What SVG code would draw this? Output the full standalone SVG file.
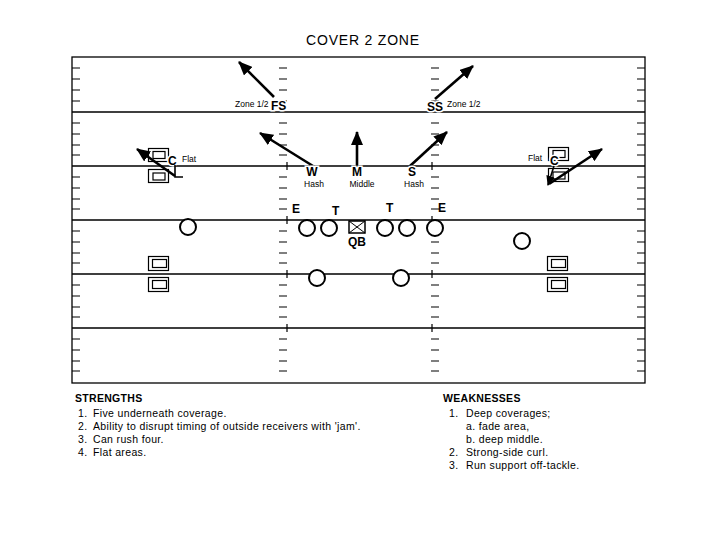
<svg xmlns="http://www.w3.org/2000/svg" width="720" height="540" viewBox="0 0 720 540">
<style>
text{font-family:"Liberation Sans",Arial,sans-serif;fill:#000}
.title{font-size:14px;letter-spacing:0.8px}
.lbl{font-size:12px;font-weight:bold}
.sm{font-size:8.5px}
.hd{font-size:10.5px;font-weight:bold;letter-spacing:0.3px}
.li{font-size:10.5px;letter-spacing:0.35px}
.fl{fill:none;stroke:#000;stroke-width:1.3}
.tk{stroke:#000;stroke-width:1.2}
.pl{fill:#fff;stroke:#000;stroke-width:2}
.bx{fill:#fff;stroke:#000;stroke-width:1.2}
.ar{stroke:#000;stroke-width:2.6;fill:none}
.ln{stroke:#000;stroke-width:1.6;fill:none}
.wt{stroke:#fff;stroke-width:3;paint-order:stroke}
</style>
<defs>
<marker id="ah" markerUnits="userSpaceOnUse" markerWidth="14" markerHeight="12" refX="13" refY="6" orient="auto"><path d="M0,0 L14,6 L0,12 Z" fill="#000"/></marker>
<marker id="ahs" markerUnits="userSpaceOnUse" markerWidth="10" markerHeight="9" refX="9" refY="4.5" orient="auto"><path d="M0,0 L10,4.5 L0,9 Z" fill="#000"/></marker>
<path id="tks" d="M72,0h8M279,0h8M431,0h8M637,0h8"/>
</defs>
<rect width="720" height="540" fill="#fff"/>
<text class="title" x="363" y="45" text-anchor="middle">COVER 2 ZONE</text>
<g id="field">
<rect class="fl" x="72" y="57" width="573" height="326"/>
<path class="fl" d="M72,112H645M72,166H645M72,220H645M72,274H645M72,328H645"/>
<g class="tk">
<use href="#tks" y="68"/><use href="#tks" y="79"/><use href="#tks" y="90"/><use href="#tks" y="101"/>
<use href="#tks" y="123"/><use href="#tks" y="134"/><use href="#tks" y="145"/><use href="#tks" y="155"/>
<use href="#tks" y="177"/><use href="#tks" y="188"/><use href="#tks" y="199"/><use href="#tks" y="209"/>
<use href="#tks" y="231"/><use href="#tks" y="242"/><use href="#tks" y="253"/><use href="#tks" y="263"/>
<use href="#tks" y="285"/><use href="#tks" y="296"/><use href="#tks" y="307"/><use href="#tks" y="317"/>
<use href="#tks" y="339"/><use href="#tks" y="350"/><use href="#tks" y="361"/><use href="#tks" y="371"/>
<path d="M287,162v8M287,216v8M287,270v8M287,324v8M432,162v8M432,216v8M432,270v8M432,324v8"/>
</g>
</g>
<g id="lc">
<rect class="bx" x="148.5" y="148.5" width="20" height="13"/><rect class="bx" x="153" y="151.5" width="12" height="7"/>
<rect class="bx" x="148.5" y="169.5" width="20" height="13"/><rect class="bx" x="153" y="173" width="12" height="7"/>
<text class="lbl wt" x="168" y="165">C</text>
<text class="sm" x="182" y="162">Flat</text>
</g>
<g id="rc">
<rect class="bx" x="548.5" y="147.5" width="20" height="13"/><rect class="bx" x="553" y="150.5" width="12" height="7"/>
<rect class="bx" x="548.5" y="168.5" width="20" height="13"/><rect class="bx" x="553" y="172" width="12" height="7"/>
<text class="lbl wt" x="550" y="165">C</text>
<text class="sm" x="528" y="161">Flat</text>
</g>
<g id="connectors">
<line class="ar" x1="274" y1="97" x2="239" y2="62" marker-end="url(#ah)"/>
<line class="ar" x1="313" y1="166" x2="260" y2="133" marker-end="url(#ah)"/>
<line class="ar" x1="357" y1="166" x2="357" y2="132" marker-end="url(#ah)"/>
<line class="ar" x1="410" y1="166" x2="447" y2="132" marker-end="url(#ah)"/>
<line class="ar" x1="435" y1="99" x2="473" y2="66" marker-end="url(#ah)"/>
<path class="ln" d="M175,165V177H183"/>
<line class="ar" x1="175" y1="176" x2="137" y2="149" marker-end="url(#ah)"/>
<line class="ln" x1="554" y1="166" x2="548" y2="185" marker-end="url(#ahs)"/>
<line class="ar" x1="549" y1="184" x2="602" y2="149" marker-end="url(#ah)"/>
</g>
<g id="fs">
<text class="sm" x="235" y="107">Zone 1/2</text>
<text class="lbl wt" x="271" y="110">FS</text>
</g>
<g id="ss">
<text class="lbl wt" x="427" y="111">SS</text>
<text class="sm" x="447" y="107">Zone 1/2</text>
</g>
<g id="w"><text class="lbl wt" x="312" y="176" text-anchor="middle">W</text><text class="sm" x="314" y="187" text-anchor="middle">Hash</text></g>
<g id="m"><text class="lbl wt" x="357" y="176" text-anchor="middle">M</text><text class="sm" x="362" y="187" text-anchor="middle">Middle</text></g>
<g id="s"><text class="lbl wt" x="412" y="176" text-anchor="middle">S</text><text class="sm" x="414" y="187" text-anchor="middle">Hash</text></g>
<g id="le"><text class="lbl" x="292" y="213">E</text><circle class="pl" cx="307" cy="228" r="8"/></g>
<g id="lt"><text class="lbl" x="332" y="215">T</text><circle class="pl" cx="329" cy="228" r="8"/></g>
<g id="qb"><rect x="349" y="221" width="16" height="12" fill="#fff" stroke="#000" stroke-width="1.5"/><path d="M349,221L365,233M365,221L349,233" stroke="#000" stroke-width="1"/><text class="lbl" x="357" y="246" text-anchor="middle">QB</text></g>
<g id="rt"><text class="lbl" x="386" y="212">T</text><circle class="pl" cx="385" cy="228" r="8"/></g>
<g id="rg"><circle class="pl" cx="407" cy="228" r="8"/></g>
<g id="re"><text class="lbl" x="438" y="212">E</text><circle class="pl" cx="435" cy="228" r="8"/></g>
<g id="lb"><circle class="pl" cx="317" cy="278" r="8"/></g>
<g id="rb"><circle class="pl" cx="401" cy="278" r="8"/></g>
<g id="lwr"><circle class="pl" cx="188" cy="227" r="8"/></g>
<g id="rwr"><circle class="pl" cx="522" cy="241" r="8"/></g>
<g id="lboxes">
<rect class="bx" x="148.5" y="256.5" width="20" height="14"/><rect class="bx" x="152.5" y="259.5" width="14" height="8"/>
<rect class="bx" x="148.5" y="277.5" width="20" height="14"/><rect class="bx" x="152.5" y="280.5" width="14" height="8"/>
</g>
<g id="rboxes">
<rect class="bx" x="547.5" y="256.5" width="20" height="14"/><rect class="bx" x="551.5" y="259.5" width="14" height="8"/>
<rect class="bx" x="547.5" y="277.5" width="20" height="14"/><rect class="bx" x="551.5" y="280.5" width="14" height="8"/>
</g>
<g id="strengths">
<text class="hd" x="75" y="402">STRENGTHS</text>
<text class="li" x="78" y="417">1.</text><text class="li" x="93" y="417">Five underneath coverage.</text>
<text class="li" x="78" y="430">2.</text><text class="li" x="93" y="430">Ability to disrupt timing of outside receivers with 'jam'.</text>
<text class="li" x="78" y="443">3.</text><text class="li" x="93" y="443">Can rush four.</text>
<text class="li" x="78" y="456">4.</text><text class="li" x="93" y="456">Flat areas.</text>
</g>
<g id="weaknesses">
<text class="hd" x="443" y="402">WEAKNESSES</text>
<text class="li" x="449" y="417">1.</text><text class="li" x="466" y="417">Deep coverages;</text>
<text class="li" x="466" y="430">a. fade area,</text>
<text class="li" x="466" y="443">b. deep middle.</text>
<text class="li" x="449" y="456">2.</text><text class="li" x="466" y="456">Strong-side curl.</text>
<text class="li" x="449" y="469">3.</text><text class="li" x="466" y="469">Run support off-tackle.</text>
</g>
</svg>
